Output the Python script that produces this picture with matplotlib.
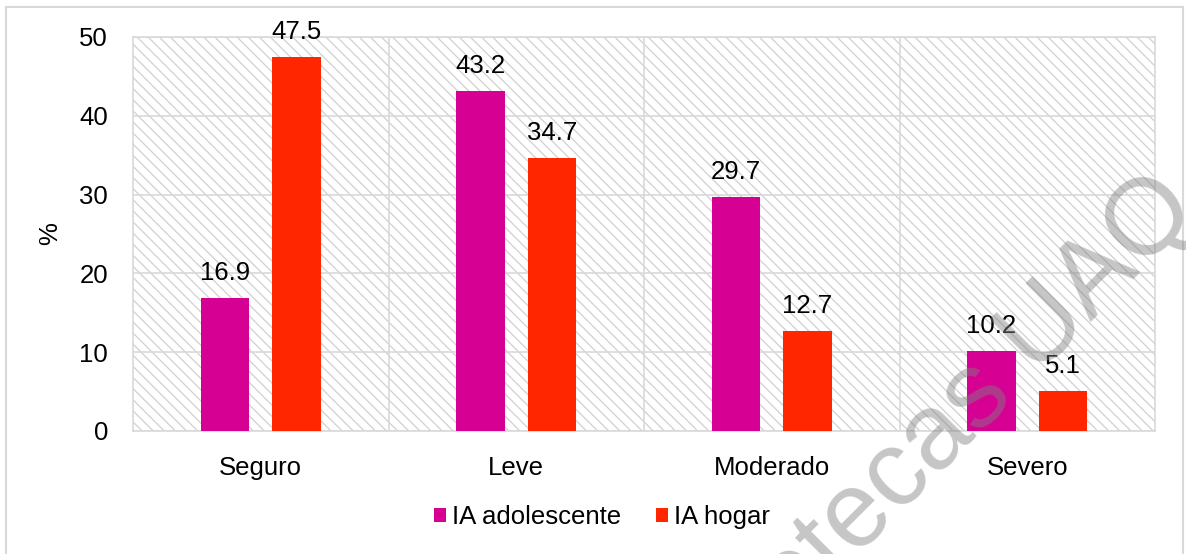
import numpy as np
import matplotlib.pyplot as plt
from matplotlib.patches import Rectangle

categorias = ["Seguro", "Leve", "Moderado", "Severo"]
ia_adolescente = [16.9, 43.2, 29.7, 10.2]
ia_hogar = [47.5, 34.7, 12.7, 5.1]
series = ["IA adolescente", "IA hogar"]
colores = ["#D60093", "#FF2600"]

plt.rcParams['font.family'] = ['Liberation Sans', 'DejaVu Sans']
plt.rcParams['hatch.linewidth'] = 0.9
FS = 18.5
GRIS = "#d9d9d9"


def main():
    fig = plt.figure(figsize=(11.86, 5.54), dpi=100)
    ax = fig.add_axes([133 / 1186, 1 - 431 / 554, 1022 / 1186, 394 / 554])

    # fondo rayado
    fondo = Rectangle((0, 0), 1, 1, transform=ax.transAxes, facecolor="white",
                      edgecolor="#d0d0d0", linewidth=0, hatch="\\\\\\", zorder=0)
    ax.add_patch(fondo)

    x = np.arange(len(categorias))
    w = 0.19
    b1 = ax.bar(x - 0.14, ia_adolescente, w, color=colores[0], label=series[0], zorder=3)
    b2 = ax.bar(x + 0.14, ia_hogar, w, color=colores[1], label=series[1], zorder=3)
    ax.bar_label(b1, fmt="%.1f", padding=9, fontsize=FS)
    ax.bar_label(b2, fmt="%.1f", padding=9, fontsize=FS)

    ax.set_xlim(-0.5, 3.5)
    ax.set_ylim(0, 50)
    ax.set_yticks(range(0, 51, 10))
    ax.set_xticks(x)
    ax.set_xticklabels(categorias)
    ax.set_xticks(np.arange(0.5, 3.5, 1), minor=True)
    ax.tick_params(axis="both", which="both", length=0, labelsize=FS)
    ax.tick_params(axis="y", pad=18)
    ax.tick_params(axis="x", pad=18)
    ax.grid(axis="y", which="major", color=GRIS, linewidth=1.2, zorder=1)
    ax.grid(axis="x", which="minor", color=GRIS, linewidth=1.2, zorder=1)
    ax.set_axisbelow(True)
    for s in ax.spines.values():
        s.set_color(GRIS)
        s.set_linewidth(1.2)

    ax.set_ylabel("%", fontsize=FS)
    ax.yaxis.set_label_coords(-0.0695, 0.5)

    fig.legend(handles=[b1, b2], labels=series, loc="center", ncol=2,
               bbox_to_anchor=(602 / 1186, 1 - 517 / 554), frameon=False,
               fontsize=FS, handlelength=0.45, handleheight=0.45,
               handletextpad=0.25, columnspacing=1.35)

    # borde del area del grafico
    fig.add_artist(Rectangle((6 / 1186, -0.02), 1177 / 1186, 1.02 - 7 / 554,
                             transform=fig.transFigure, fill=False,
                             edgecolor=GRIS, linewidth=1.5))

    # marca de agua
    fig.text(1201 / 1186, 1 - 213 / 554, "Bibliotecas UAQ", fontsize=77,
             color="#808080", alpha=0.45, rotation=45, rotation_mode="anchor",
             ha="right", va="baseline", zorder=10)

    fig.savefig("out.png", dpi=100)


if __name__ == "__main__":
    main()
